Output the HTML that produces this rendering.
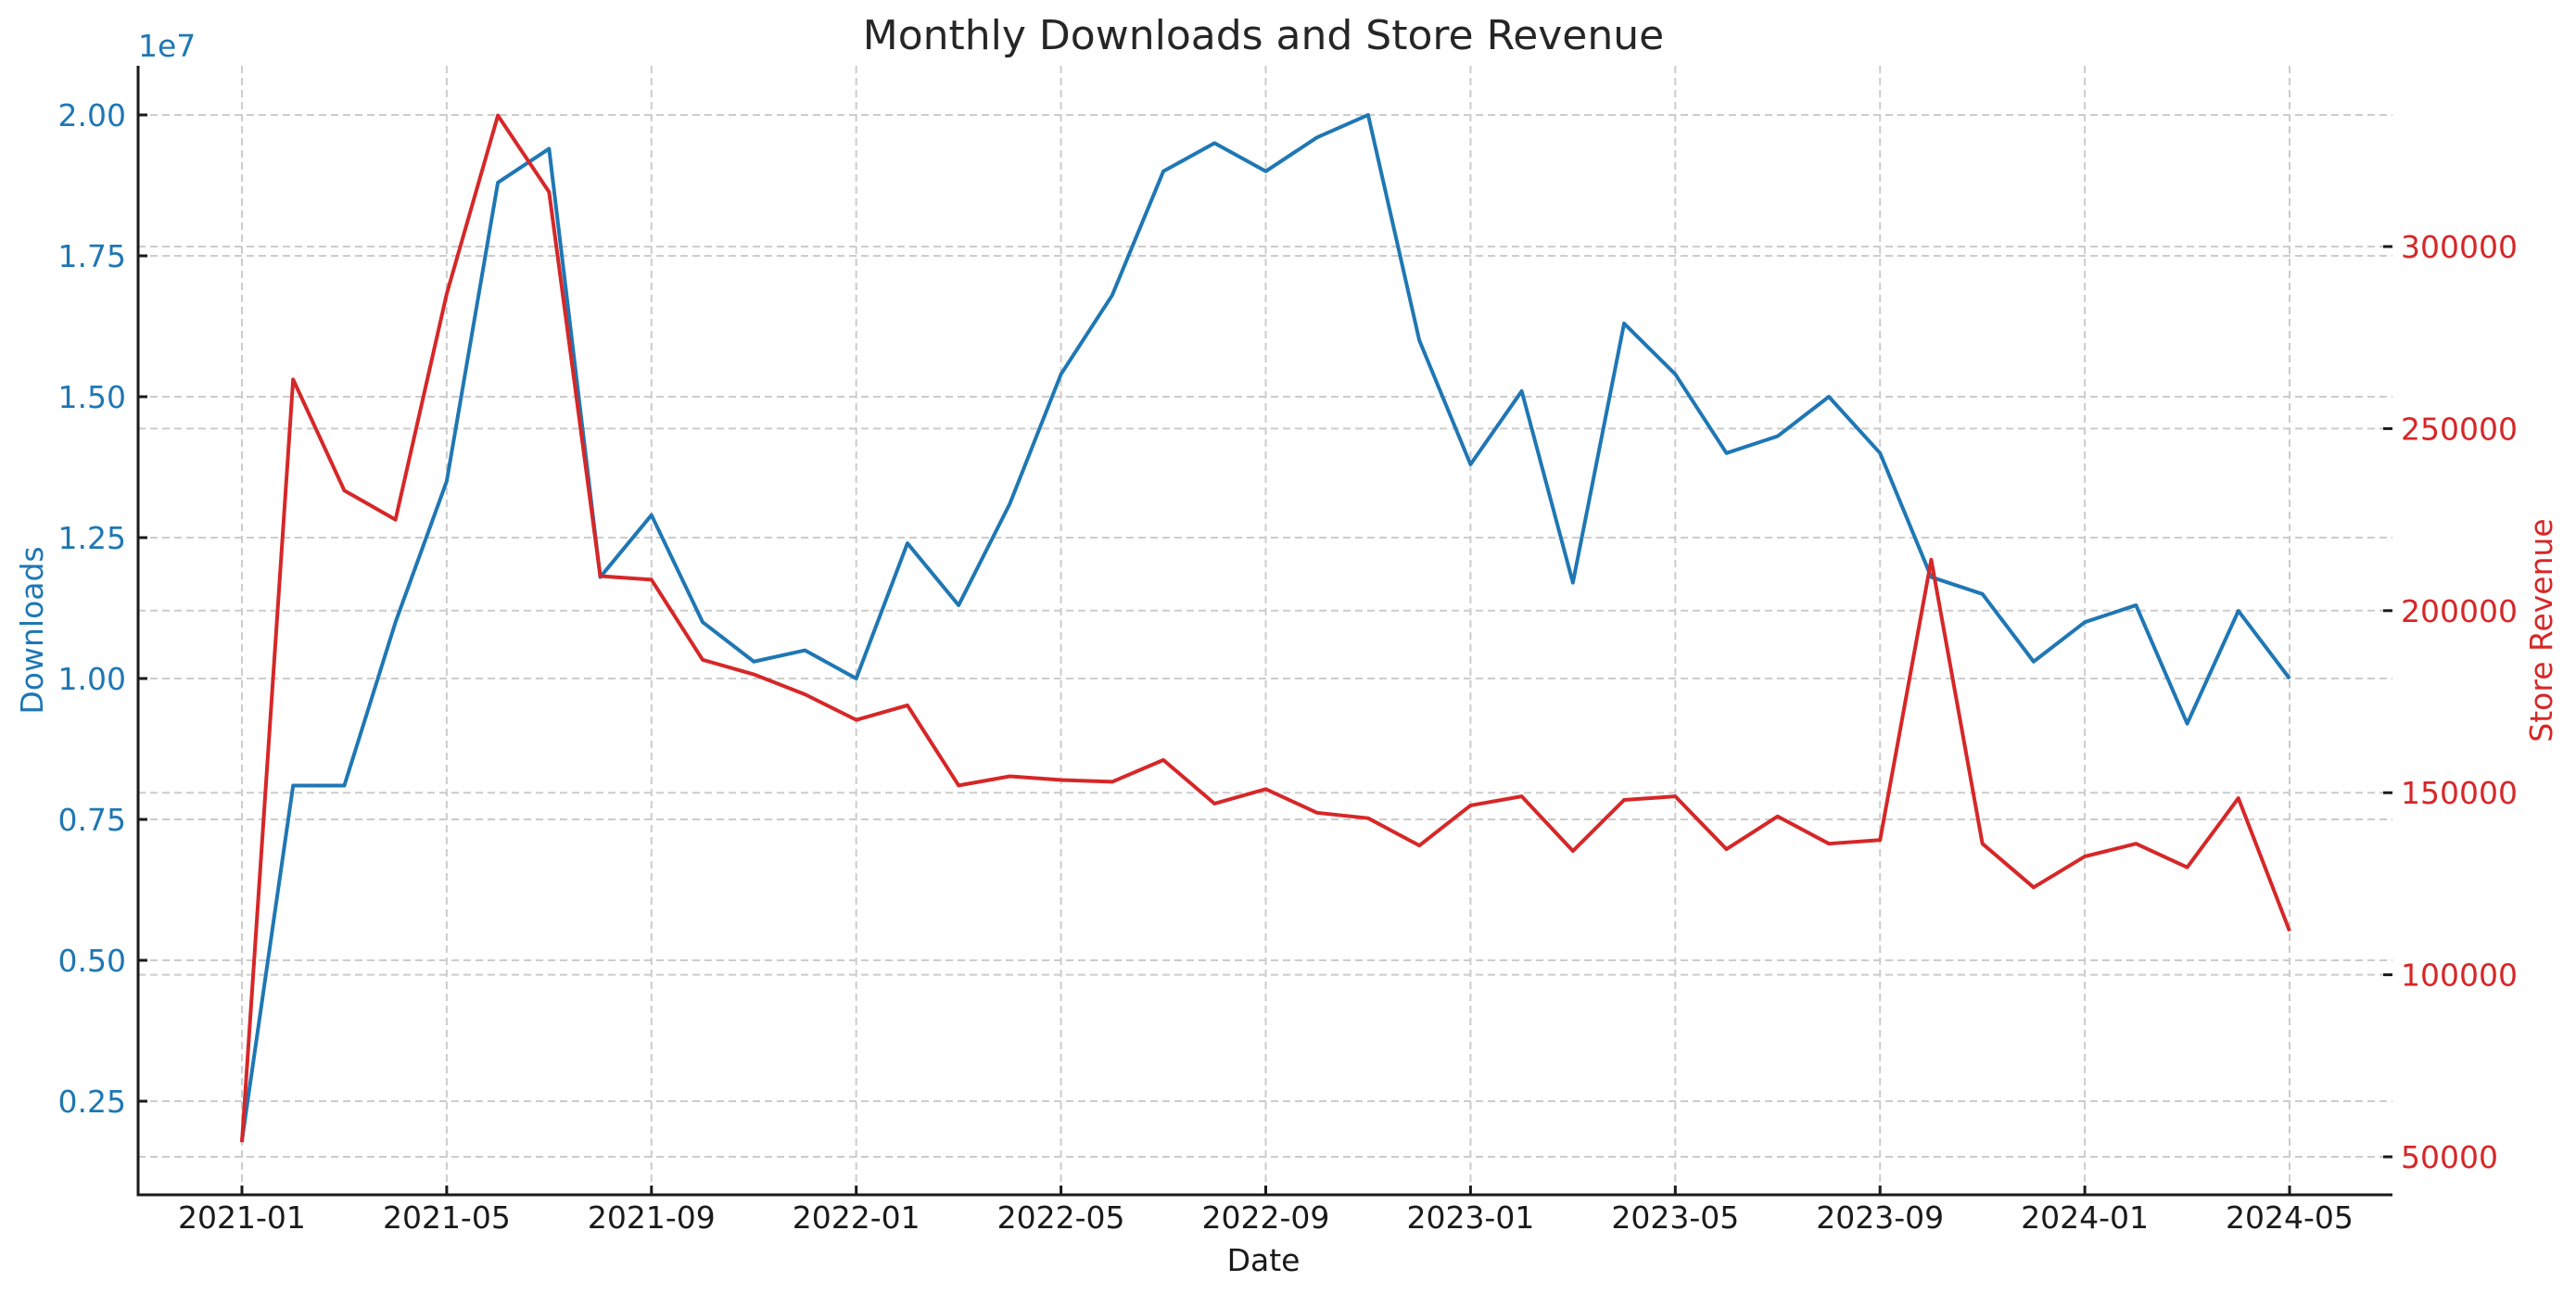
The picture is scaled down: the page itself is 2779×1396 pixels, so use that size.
<!DOCTYPE html>
<html><head><meta charset="utf-8"><style>
body{margin:0;background:#fff}
svg{display:block;font-family:"DejaVu Sans","Liberation Sans",sans-serif}
</style></head><body>
<svg id="chart" width="2779" height="1396" viewBox="0 0 2779 1396" xmlns="http://www.w3.org/2000/svg">
<g id="grid"></g>
<g id="axes"></g>
<g id="series"></g>
<text x="1363" y="53" font-size="44" text-anchor="middle" fill="#262626">Monthly Downloads and Store Revenue</text>
<text x="1363" y="1371" font-size="33" text-anchor="middle" fill="#1a1a1a">Date</text>
<text transform="translate(46,680) rotate(-90)" font-size="33" text-anchor="middle" fill="#1f77b4">Downloads</text>
<text transform="translate(2753,680) rotate(-90)" font-size="33" text-anchor="middle" fill="#d62728">Store Revenue</text>
<text x="149" y="61" font-size="33" fill="#1f77b4">1e7</text>
</svg>
<script>
const downloads=[0.18,0.81,0.81,1.10,1.35,1.88,1.94,1.18,1.29,1.10,1.03,1.05,1.00,1.24,1.13,1.31,1.54,1.68,1.90,1.95,1.90,1.96,2.00,1.60,1.38,1.51,1.17,1.63,1.54,1.40,1.43,1.50,1.40,1.18,1.15,1.03,1.10,1.13,0.92,1.12,1.00];
const revenue=[54000,263500,233000,225000,287000,336000,315000,209500,208500,186500,182500,177000,170000,174000,152000,154500,153500,153000,159000,147000,151000,144500,143000,135500,146500,149000,134000,148000,149000,134500,143500,136000,137000,214000,136000,124000,132500,136000,129500,148500,112000];
const xTickLabels=["2021-01","2021-05","2021-09","2022-01","2022-05","2022-09","2023-01","2023-05","2023-09","2024-01","2024-05"];
const leftTicks=[0.25,0.50,0.75,1.00,1.25,1.50,1.75,2.00];
const rightTicks=[50000,100000,150000,200000,250000,300000];
const NS="http://www.w3.org/2000/svg";
const L=149,R=2581,T=71,B=1289;
const xS=i=>261+i*55.225;
const yL=v=>124+(2.0-v)/0.25*152;
const yR=v=>1248-(v-50000)/50000*196.4;
function mk(tag,attrs,parent){const e=document.createElementNS(NS,tag);for(const k in attrs)e.setAttribute(k,attrs[k]);document.getElementById(parent).appendChild(e);return e;}
const dash={"stroke":"#cccccc","stroke-width":"2","stroke-dasharray":"8,5"};
xTickLabels.forEach((lab,i)=>{const x=xS(i*4);
 const g=mk("line",Object.assign({x1:x,x2:x,y1:T,y2:B},dash),"grid");
 
 
 const t=mk("line",{x1:x,x2:x,y1:B,y2:B-10,stroke:"#1a1a1a","stroke-width":"3"},"axes");
 
 
 const tx=mk("text",{x:x,y:1325,"font-size":"33","text-anchor":"middle",fill:"#1a1a1a"},"axes");
 tx.textContent=lab;
 
 
});
leftTicks.forEach(v=>{const y=yL(v);
 const g=mk("line",Object.assign({x1:L,x2:R,y1:y,y2:y},dash),"grid");
 
 
 const t=mk("line",{x1:L,x2:L+10,y1:y,y2:y,stroke:"#1a1a1a","stroke-width":"3"},"axes");
 
 
 const tx=mk("text",{x:136,y:y+12,"font-size":"33","text-anchor":"end",fill:"#1f77b4"},"axes");
 tx.textContent=v.toFixed(2);
 
 
});
rightTicks.forEach(v=>{const y=yR(v);
 const g=mk("line",Object.assign({x1:L,x2:R,y1:y,y2:y},dash),"grid");
 
 
 const t=mk("line",{x1:R-10,x2:R,y1:y,y2:y,stroke:"#1a1a1a","stroke-width":"3"},"axes");
 
 
 const tx=mk("text",{x:2590,y:y+12,"font-size":"33",fill:"#d62728"},"axes");
 tx.textContent=String(v);
 
 
});
const ls=mk("line",{x1:L,x2:L,y1:T,y2:B+1.5,stroke:"#1a1a1a","stroke-width":"3"},"axes");


const bs=mk("line",{x1:L,x2:R,y1:B,y2:B,stroke:"#1a1a1a","stroke-width":"3"},"axes");


const p1=mk("polyline",{points:downloads.map((v,i)=>xS(i)+","+yL(v)).join(" "),fill:"none",stroke:"#1f77b4","stroke-width":"4","stroke-linejoin":"round"},"series");


const p2=mk("polyline",{points:revenue.map((v,i)=>xS(i)+","+yR(v)).join(" "),fill:"none",stroke:"#d62728","stroke-width":"4","stroke-linejoin":"round"},"series");


</script>
</body></html>
